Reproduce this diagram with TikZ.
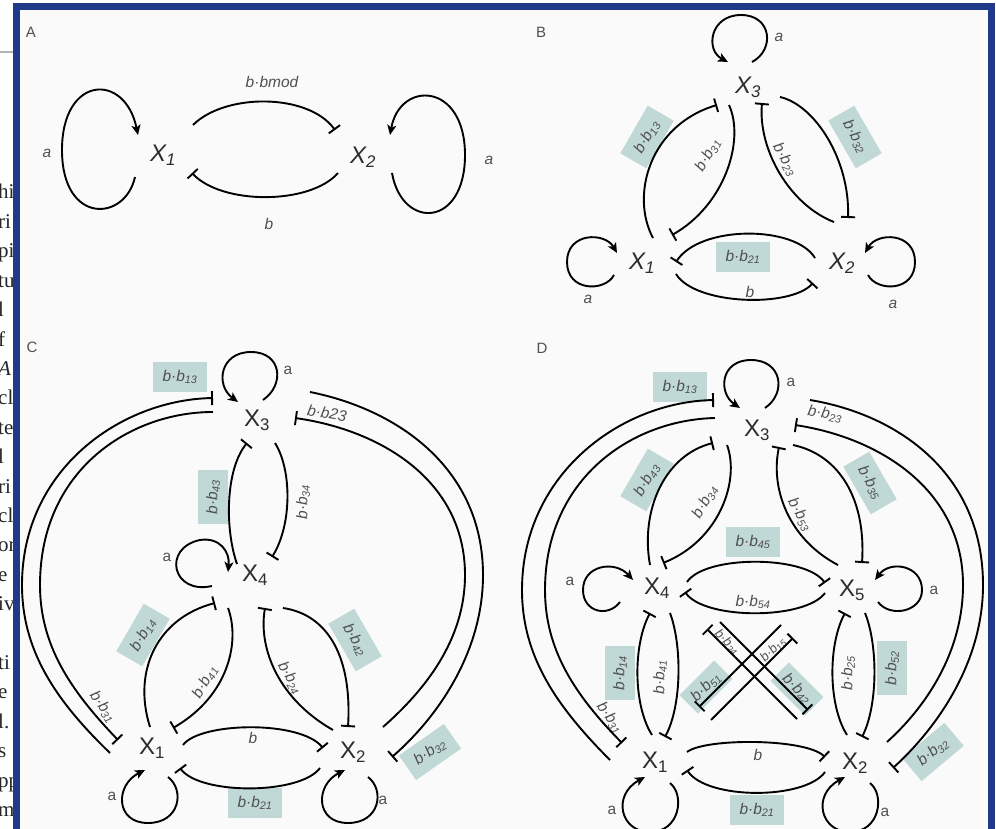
\documentclass[tikz,border=0pt]{standalone}
\usepackage{fontspec}
\setmainfont{Liberation Sans}
\newfontfamily\serifpage{Liberation Serif}
\usetikzlibrary{arrows.meta,calc}
\definecolor{framecol}{RGB}{33,57,137}
\definecolor{boxcol}{RGB}{192,217,214}
\definecolor{labcol}{RGB}{80,80,80}
\definecolor{xcol}{RGB}{45,45,45}
\definecolor{panelbg}{RGB}{250,250,250}
\begin{document}
\begin{tikzpicture}[x=1pt,y=-1pt,
  ed/.style={line width=1.9pt, black},
  inh/.style={ed, -{Bar[width=14pt]}},
  act/.style={ed, -{Stealth[length=10pt,width=9pt,inset=2.5pt]}},
  xn/.style={font=\fontsize{24}{26}\selectfont, text=xcol, inner sep=0pt},
  xi/.style={xn, font=\fontsize{24}{26}\selectfont\itshape},
  lab/.style={font=\fontsize{15.5}{16}\selectfont\itshape, text=labcol, inner sep=1pt},
  labup/.style={font=\fontsize{15.5}{16}\selectfont, text=labcol, inner sep=1pt},
  bx/.style={lab, fill=boxcol, inner xsep=10pt, inner ysep=0pt, minimum height=30pt},
  pl/.style={font=\fontsize{15}{16}\selectfont, text=labcol, inner sep=0pt},
  pg/.style={font=\serifpage\fontsize{21}{22}\selectfont, text=black!85, anchor=base west, inner sep=0pt}
]
\useasboundingbox (0,0) rectangle (996,829);
\clip (0,0) rectangle (996,829);
\fill[white] (0,0) rectangle (996,829);
\fill[panelbg] (20,10) rectangle (988,829);
% page text beside the frame
\begin{scope}
\clip (0,0) rectangle (14,829);
\draw[gray!60, line width=1.2pt] (0,52) -- (14,52);
\foreach \t [count=\i] in {hi,ri,pi,tu,l,f,{\itshape A},cl,te,l,ri,cl,or,e,iv,{},ti,e,l.,s,pp,m}
  \node[pg] (pg\i) at (-2,{199+29.4*(\i-1)}) {\t};
\end{scope}
\draw[framecol, line width=7pt] (16.5,840) -- (16.5,6.5) -- (991.5,6.5) -- (991.5,840);

% ================= Panel A =================
\node[pl] (labA) at (31,32) {A};
\node[xi] (A1) at (163,155) {X\textsubscript{1}};
\node[xi] (A2) at (363,157) {X\textsubscript{2}};
\node[lab] (lA1) at (272,82) {b·bmod};
\node[lab] (lA2) at (269,224) {b};
\node[lab] (lA3) at (47,153) {a};
\node[lab] (lA4) at (489,160) {a};
\draw[act] ($(A1)+(-28,22)$) .. controls (125,222) and (62,225) .. (62,150) .. controls (62,75) and (125,72) .. ($(A1)+(-25,-20)$);
\draw[act] ($(A2)+(29,16)$) .. controls (402,230) and (465,228) .. (465,155) .. controls (465,82) and (400,80) .. ($(A2)+(27,-22)$);
\draw[inh] ($(A1)+(30,-30)$) .. controls (225,93) and (308,93) .. ($(A2)+(-28,-27)$);
\draw[inh] ($(A2)+(-25,16)$) .. controls (310,205) and (222,205) .. ($(A1)+(29,18)$);

% ================= Panel B =================
\node[pl] (labB) at (541,32) {B};
\node[xi] (B3) at (748,87) {X\textsubscript{3}};
\node[xi] (B1) at (642,263) {X\textsubscript{1}};
\node[xi] (B2) at (842,263) {X\textsubscript{2}};
\node[bx, rotate=60] (bB13) at (647,137) {b·b\textsubscript{13}};
\node[bx, rotate=-60] (bB32) at (855,137) {b·b\textsubscript{32}};
\node[bx] (bB21) at (743,257) {b·b\textsubscript{21}};
\node[lab, rotate=60] (lB31) at (708,155) {b·b\textsubscript{31}};
\node[lab, rotate=-60] (lB23) at (785,160) {b·b\textsubscript{23}};
\node[lab] (lB0) at (750,292) {b};
\node[lab] (lBa3) at (779,37) {a};
\node[lab] (lBa1) at (588,299) {a};
\node[lab] (lBa2) at (893,304) {a};
\draw[act] ($(B3)+(4,-25)$) .. controls (775,50) and (772,15) .. (741,15) .. controls (710,15) and (705,50) .. ($(B3)+(-20,-25)$);
\draw[act] ($(B1)+(-28,12)$) .. controls (605,292) and (567,292) .. (567,262) .. controls (567,232) and (605,232) .. ($(B1)+(-25,-10)$);
\draw[act] ($(B2)+(26,12)$) .. controls (877,292) and (915,292) .. (915,262) .. controls (915,232) and (877,232) .. ($(B2)+(23,-10)$);
\draw[inh] ($(B1)+(11,-25)$) .. controls (630,195) and (650,125) .. ($(B3)+(-31,18)$);
\draw[inh] ($(B3)+(-19,18)$) .. controls (745,140) and (725,205) .. ($(B1)+(30,-28)$);
\draw[inh] ($(B2)+(-8,-41)$) .. controls (790,205) and (758,150) .. ($(B3)+(14,16)$);
\draw[inh] ($(B3)+(32,10)$) .. controls (815,105) and (850,160) .. ($(B2)+(6,-45)$);
\draw[inh] ($(B2)+(-27,-5)$) .. controls (795,225) and (700,225) .. ($(B1)+(34,-1)$);
\draw[inh] ($(B1)+(34,11)$) .. controls (695,305) and (790,308) .. ($(B2)+(-29,20)$);

% ================= Panel C =================
\node[pl] (labC) at (32,347) {C};
\node[xn] (C3) at (257,420) {X\textsubscript{3}};
\node[xn] (C4) at (255,575) {X\textsubscript{4}};
\node[xn] (C1) at (152,748) {X\textsubscript{1}};
\node[xn] (C2) at (353,752) {X\textsubscript{2}};
\node[bx] (bC13) at (180,377) {b·b\textsubscript{13}};
\node[bx, rotate=90] (bC43) at (213,497) {b·b\textsubscript{43}};
\node[bx, rotate=60] (bC14) at (143,635) {b·b\textsubscript{14}};
\node[bx, rotate=-60] (bC42) at (355,640) {b·b\textsubscript{42}};
\node[bx, rotate=35] (bC32) at (430,752) {b·b\textsubscript{32}};
\node[bx] (bC21) at (255,803) {b·b\textsubscript{21}};
\node[lab, rotate=-10] (lC23) at (327,413) {b·b23};
\node[lab, rotate=90] (lC34) at (303,502) {b·b\textsubscript{34}};
\node[lab, rotate=60] (lC41) at (205,682) {b·b\textsubscript{41}};
\node[lab, rotate=-60] (lC24) at (290,678) {b·b\textsubscript{24}};
\node[lab, rotate=-55] (lC31) at (103,707) {b·b\textsubscript{31}};
\node[lab] (lC0) at (253,738) {b};
\node[labup] (lCa3) at (288,370) {a};
\node[labup] (lCa4) at (167,557) {a};
\node[labup] (lCa1) at (112,796) {a};
\node[labup] (lCa2) at (383,800) {a};
\draw[act] ($(C3)+(6,-20)$) .. controls (285,385) and (282,352) .. (251,352) .. controls (220,352) and (215,385) .. ($(C3)+(-19,-18)$);
\draw[act] ($(C4)+(-43,11)$) .. controls (172,595) and (162,548) .. (200,540) .. controls (220,537) and (230,552) .. ($(C4)+(-27,-3)$);
\draw[act] ($(C1)+(16,29)$) .. controls (185,790) and (180,823) .. (148,823) .. controls (115,823) and (115,785) .. ($(C1)+(-7,22)$);
\draw[act] ($(C2)+(15,25)$) .. controls (385,790) and (380,823) .. (348,823) .. controls (315,823) and (315,785) .. ($(C2)+(-8,18)$);
\draw[inh] ($(C1)+(-42,5)$) .. controls (55,700) and (22,650) .. (22,585) .. controls (22,470) and (120,400) .. ($(C3)+(-44,-22)$);
\draw[inh] ($(C3)+(-44,-8)$) .. controls (130,412) and (40,470) .. (40,585) .. controls (40,645) and (70,690) .. ($(C1)+(-34,-8)$);
\draw[inh] ($(C3)+(53,-28)$) .. controls (400,410) and (483,470) .. (483,575) .. controls (483,650) and (440,715) .. ($(C2)+(39,5)$);
\draw[inh] ($(C2)+(30,-25)$) .. controls (425,690) and (465,640) .. (465,575) .. controls (465,480) and (380,430) .. ($(C3)+(38,-2)$);
\draw[inh] ($(C4)+(-18,-11)$) .. controls (225,530) and (225,470) .. ($(C3)+(-10,23)$);
\draw[inh] ($(C3)+(18,23)$) .. controls (292,470) and (292,525) .. ($(C4)+(17,-18)$);
\draw[inh] ($(C1)+(-2,-21)$) .. controls (132,670) and (158,618) .. ($(C4)+(-40,28)$);
\draw[inh] ($(C4)+(-27,33)$) .. controls (240,640) and (230,695) .. ($(C1)+(21,-20)$);
\draw[inh] ($(C2)+(-20,-22)$) .. controls (280,700) and (258,650) .. ($(C4)+(10,33)$);
\draw[inh] ($(C4)+(28,33)$) .. controls (330,615) and (352,660) .. ($(C2)+(-5,-25)$);
\draw[inh] ($(C1)+(31,-3)$) .. controls (200,722) and (300,720) .. ($(C2)+(-30,-4)$);
\draw[inh] ($(C2)+(-33,16)$) .. controls (300,795) and (200,795) .. ($(C1)+(28,20)$);

% ================= Panel D =================
\node[pl] (labD) at (542,348) {D};
\node[xn] (D3) at (757,430) {X\textsubscript{3}};
\node[xn] (D4) at (657,588) {X\textsubscript{4}};
\node[xn] (D5) at (852,590) {X\textsubscript{5}};
\node[xn] (D1) at (655,762) {X\textsubscript{1}};
\node[xn] (D2) at (855,763) {X\textsubscript{2}};
\node[bx] (bD13) at (680,387) {b·b\textsubscript{13}};
\node[bx, rotate=60] (bD43) at (647,480) {b·b\textsubscript{43}};
\node[bx, rotate=-60] (bD35) at (870,483) {b·b\textsubscript{35}};
\node[bx] (bD45) at (753,542) {b·b\textsubscript{45}};
\node[bx, rotate=90] (bD14) at (620,673) {b·b\textsubscript{14}};
\node[bx, rotate=90] (bD52) at (892,668) {b·b\textsubscript{52}};
\node[bx, rotate=45, inner xsep=7pt, minimum height=26pt] (bD51) at (706,687) {b·b\textsubscript{51}};
\node[bx, rotate=-45, inner xsep=7pt, minimum height=26pt] (bD42) at (797,689) {b·b\textsubscript{42}};
\node[bx, rotate=40] (bD32) at (933,752) {b·b\textsubscript{32}};
\node[bx] (bD21) at (757,810) {b·b\textsubscript{21}};
\node[lab, rotate=-10] (lD23) at (825,414) {b·b\textsubscript{23}};
\node[lab, rotate=60] (lD34) at (705,502) {b·b\textsubscript{34}};
\node[lab, rotate=-60] (lD53) at (800,515) {b·b\textsubscript{53}};
\node[lab] (lD54) at (753,602) {b·b\textsubscript{54}};
\node[lab, rotate=90] (lD41) at (660,677) {b·b\textsubscript{41}};
\node[lab, rotate=90] (lD25) at (848,673) {b·b\textsubscript{25}};
\node[lab, rotate=-45, font=\fontsize{13}{14}\selectfont\itshape] (lD24) at (727,642) {b·b\textsubscript{24}};
\node[lab, rotate=45, font=\fontsize{13}{14}\selectfont\itshape] (lD15) at (773,650) {b·b\textsubscript{15}};
\node[lab, rotate=-55] (lD31) at (610,718) {b·b\textsubscript{31}};
\node[lab] (lD0) at (758,755) {b};
\node[labup] (lDa3) at (791,382) {a};
\node[labup] (lDa4) at (570,581) {a};
\node[labup] (lDa5) at (934,590) {a};
\node[labup] (lDa1) at (612,810) {a};
\node[labup] (lDa2) at (885,812) {a};
\draw[act] ($(D3)+(8,-22)$) .. controls (787,393) and (782,360) .. (751,360) .. controls (720,360) and (718,393) .. ($(D3)+(-17,-22)$);
\draw[act] ($(D4)+(-37,14)$) .. controls (608,618) and (583,612) .. (583,590) .. controls (583,565) and (615,560) .. ($(D4)+(-24,-8)$);
\draw[act] ($(D5)+(26,12)$) .. controls (890,618) and (922,612) .. (922,590) .. controls (922,565) and (890,560) .. ($(D5)+(23,-10)$);
\draw[act] ($(D1)+(15,21)$) .. controls (685,795) and (680,832) .. (650,832) .. controls (620,832) and (612,795) .. ($(D1)+(-10,15)$);
\draw[act] ($(D2)+(15,20)$) .. controls (885,795) and (880,832) .. (850,832) .. controls (820,832) and (812,795) .. ($(D2)+(-10,14)$);
\draw[inh] ($(D1)+(-45,-2)$) .. controls (555,705) and (522,655) .. (522,590) .. controls (522,475) and (620,402) .. ($(D3)+(-43,-30)$);
\draw[inh] ($(D3)+(-42,-12)$) .. controls (630,420) and (545,480) .. (545,590) .. controls (545,650) and (575,695) .. ($(D1)+(-33,-19)$);
\draw[inh] ($(D3)+(53,-30)$) .. controls (900,415) and (983,475) .. (983,585) .. controls (983,660) and (940,725) .. ($(D2)+(38,5)$);
\draw[inh] ($(D2)+(32,-21)$) .. controls (928,705) and (963,650) .. (963,585) .. controls (963,490) and (880,438) .. ($(D3)+(38,-5)$);
\draw[inh] ($(D4)+(-7,-23)$) .. controls (640,510) and (665,455) .. ($(D3)+(-44,13)$);
\draw[inh] ($(D3)+(-30,15)$) .. controls (740,480) and (720,540) .. ($(D4)+(6,-25)$);
\draw[inh] ($(D5)+(-14,-25)$) .. controls (790,540) and (770,490) .. ($(D3)+(22,17)$);
\draw[inh] ($(D3)+(36,15)$) .. controls (840,455) and (866,500) .. ($(D5)+(10,-27)$);
\draw[inh] ($(D4)+(30,-6)$) .. controls (705,555) and (805,555) .. ($(D5)+(-27,-7)$);
\draw[inh] ($(D5)+(-27,3)$) .. controls (805,620) and (705,620) .. ($(D4)+(28,4)$);
\draw[inh] ($(D1)+(-3,-27)$) .. controls (633,705) and (633,645) .. ($(D4)+(-7,25)$);
\draw[inh] ($(D4)+(13,25)$) .. controls (682,645) and (682,705) .. ($(D1)+(10,-25)$);
\draw[inh] ($(D2)+(-8,-28)$) .. controls (828,705) and (828,645) .. ($(D5)+(-7,23)$);
\draw[inh] ($(D5)+(13,23)$) .. controls (878,645) and (878,705) .. ($(D2)+(7,-26)$);
\draw[inh] ($(D5)+(-71,35)$) -- ($(D1)+(44,-55)$);
\draw[inh] ($(D1)+(56,-42)$) -- ($(D5)+(-59,48)$);
\draw[inh] ($(D2)+(-58,-44)$) -- ($(D4)+(50,41)$);
\draw[inh] ($(D4)+(63,34)$) -- ($(D2)+(-47,-53)$);
\draw[inh] ($(D1)+(32,-10)$) .. controls (705,738) and (805,738) .. ($(D2)+(-30,-6)$);
\draw[inh] ($(D2)+(-30,9)$) .. controls (805,800) and (707,800) .. ($(D1)+(32,8)$);
\end{tikzpicture}
\end{document}
